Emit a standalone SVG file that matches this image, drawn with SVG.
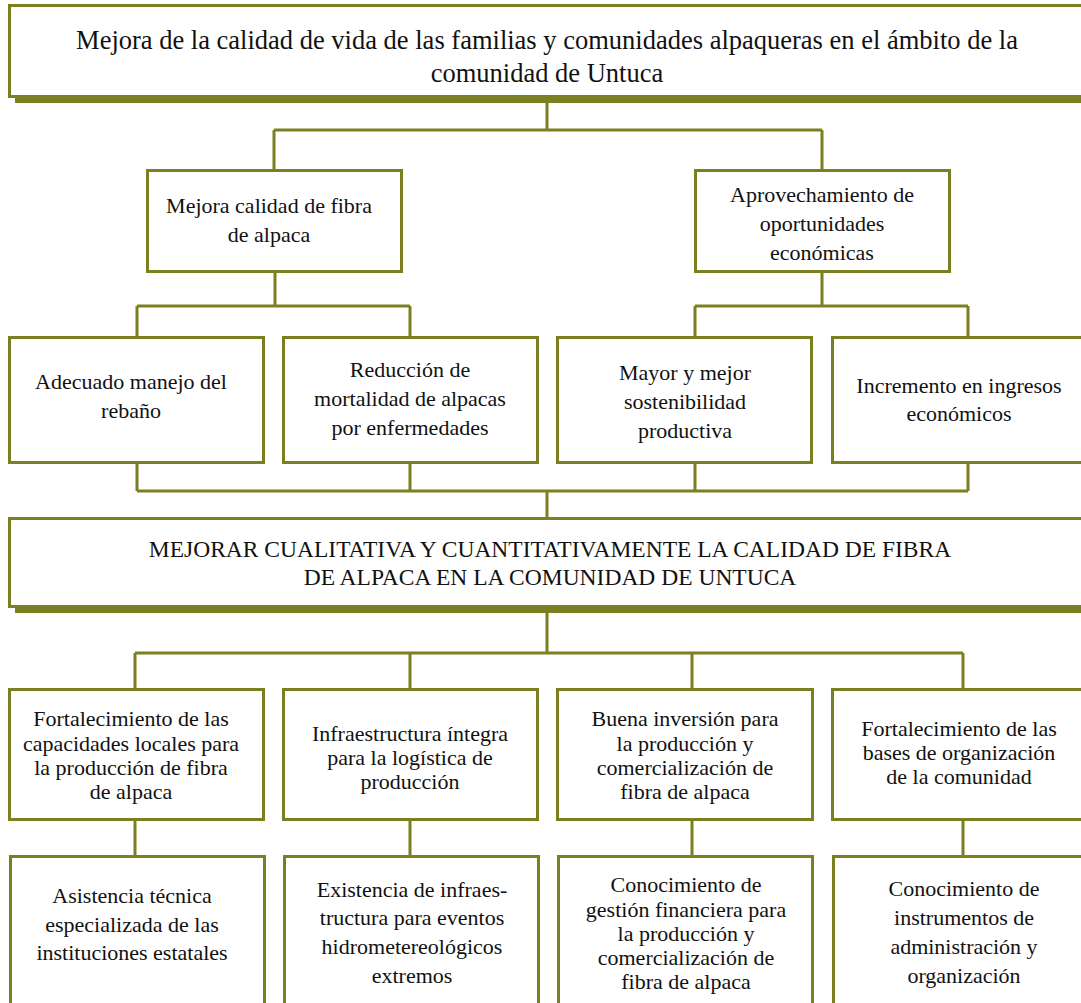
<svg xmlns="http://www.w3.org/2000/svg" width="1081" height="1003" viewBox="0 0 1081 1003">
<style>
.box{fill:#fff;stroke:#7b7f1f;stroke-width:3}
.sh{fill:#7b7f1f}
.ln{fill:none;stroke:#7b7f1f;stroke-width:3}
text{font-family:"Liberation Serif","DejaVu Serif",serif;fill:#111;text-anchor:middle;dominant-baseline:central}
.t1{font-size:26.5px}
.tm{font-size:23.5px}
.t2{font-size:22px}
.t3{font-size:22px}
</style>
<rect width="1081" height="1003" fill="#fff"/>
<g id="connectors">
<path class="ln" d="M547 103V130M274 130H822M274 130V170M822 130V170"/>
<path class="ln" d="M275 272V306M137 306H410M137 306V337M410 306V337"/>
<path class="ln" d="M822 272V306M695 306H968M695 306V337M968 306V337"/>
<path class="ln" d="M137 463V491M410 463V491M695 463V491M968 463V491M137 491H968M547 491V518"/>
<path class="ln" d="M547 613V653M135 653H963M135 653V689M410 653V689M692 653V689M963 653V689"/>
<path class="ln" d="M135 820V856M410 820V856M692 820V856M963 820V856"/>
</g>
<g id="n0">
<rect class="sh" x="15" y="96" width="1070" height="7"/>
<rect class="box" x="9.5" y="5.5" width="1080" height="91"/>
<text class="t1"><tspan x="547" y="40">Mejora de la calidad de vida de las familias y comunidades alpaqueras en el ámbito de la</tspan><tspan x="547" y="73">comunidad de Untuca</tspan></text>
</g>
<g id="n1">
<rect class="box" x="147.5" y="170.5" width="254" height="101"/>
<text class="t2"><tspan x="269" y="205">Mejora calidad de fibra</tspan><tspan x="269" y="234">de alpaca</tspan></text>
</g>
<g id="n2">
<rect class="box" x="695.5" y="170.5" width="254" height="101"/>
<text class="t2"><tspan x="822" y="194">Aprovechamiento de</tspan><tspan x="822" y="223">oportunidades</tspan><tspan x="822" y="252">económicas</tspan></text>
</g>
<g id="n3">
<rect class="box" x="9.5" y="337.5" width="254" height="125"/>
<text class="t2"><tspan x="131" y="381">Adecuado manejo del</tspan><tspan x="131" y="410">rebaño</tspan></text>
</g>
<g id="n4">
<rect class="box" x="283.5" y="337.5" width="254" height="125"/>
<text class="t2"><tspan x="410" y="369">Reducción de</tspan><tspan x="410" y="398">mortalidad de alpacas</tspan><tspan x="410" y="427">por enfermedades</tspan></text>
</g>
<g id="n5">
<rect class="box" x="557.5" y="337.5" width="254" height="125"/>
<text class="t2"><tspan x="685" y="372">Mayor y mejor</tspan><tspan x="685" y="401">sostenibilidad</tspan><tspan x="685" y="430">productiva</tspan></text>
</g>
<g id="n6">
<rect class="box" x="832.5" y="337.5" width="260" height="125"/>
<text class="t2"><tspan x="959" y="385">Incremento en ingresos</tspan><tspan x="959" y="413">económicos</tspan></text>
</g>
<g id="n7">
<rect class="sh" x="15" y="606" width="1070" height="7"/>
<rect class="box" x="9.5" y="518.5" width="1080" height="88"/>
<text class="tm"><tspan x="550" y="549">MEJORAR CUALITATIVA Y CUANTITATIVAMENTE LA CALIDAD DE FIBRA</tspan><tspan x="550" y="577">DE ALPACA EN LA COMUNIDAD DE UNTUCA</tspan></text>
</g>
<g id="n8">
<rect class="box" x="9.5" y="689.5" width="254" height="130"/>
<text class="t3"><tspan x="131" y="718">Fortalecimiento de las</tspan><tspan x="131" y="743">capacidades locales para</tspan><tspan x="131" y="767">la producción de fibra</tspan><tspan x="131" y="791">de alpaca</tspan></text>
</g>
<g id="n9">
<rect class="box" x="283.5" y="689.5" width="254" height="130"/>
<text class="t3"><tspan x="410" y="733">Infraestructura íntegra</tspan><tspan x="410" y="757">para la logística de</tspan><tspan x="410" y="781">producción</tspan></text>
</g>
<g id="n10">
<rect class="box" x="557.5" y="689.5" width="255" height="130"/>
<text class="t3"><tspan x="685" y="718">Buena inversión para</tspan><tspan x="685" y="743">la producción y</tspan><tspan x="685" y="767">comercialización de</tspan><tspan x="685" y="791">fibra de alpaca</tspan></text>
</g>
<g id="n11">
<rect class="box" x="832.5" y="689.5" width="260" height="130"/>
<text class="t3"><tspan x="959" y="728">Fortalecimiento de las</tspan><tspan x="959" y="752">bases de organización</tspan><tspan x="959" y="776">de la comunidad</tspan></text>
</g>
<g id="n12">
<rect class="box" x="10.5" y="856.5" width="254" height="160"/>
<text class="t3"><tspan x="132" y="895">Asistencia técnica</tspan><tspan x="132" y="924">especializada de las</tspan><tspan x="132" y="952">instituciones estatales</tspan></text>
</g>
<g id="n13">
<rect class="box" x="284.5" y="856.5" width="254" height="160"/>
<text class="t3"><tspan x="412" y="889">Existencia de infraes-</tspan><tspan x="412" y="917">tructura para eventos</tspan><tspan x="412" y="946">hidrometereológicos</tspan><tspan x="412" y="975">extremos</tspan></text>
</g>
<g id="n14">
<rect class="box" x="558.5" y="856.5" width="254" height="160"/>
<text class="t3"><tspan x="686" y="884">Conocimiento de</tspan><tspan x="686" y="909">gestión financiera para</tspan><tspan x="686" y="933">la producción y</tspan><tspan x="686" y="957">comercialización de</tspan><tspan x="686" y="981">fibra de alpaca</tspan></text>
</g>
<g id="n15">
<rect class="box" x="833.5" y="856.5" width="260" height="160"/>
<text class="t3"><tspan x="964" y="888">Conocimiento de</tspan><tspan x="964" y="917">instrumentos de</tspan><tspan x="964" y="946">administración y</tspan><tspan x="964" y="975">organización</tspan></text>
</g>
</svg>
